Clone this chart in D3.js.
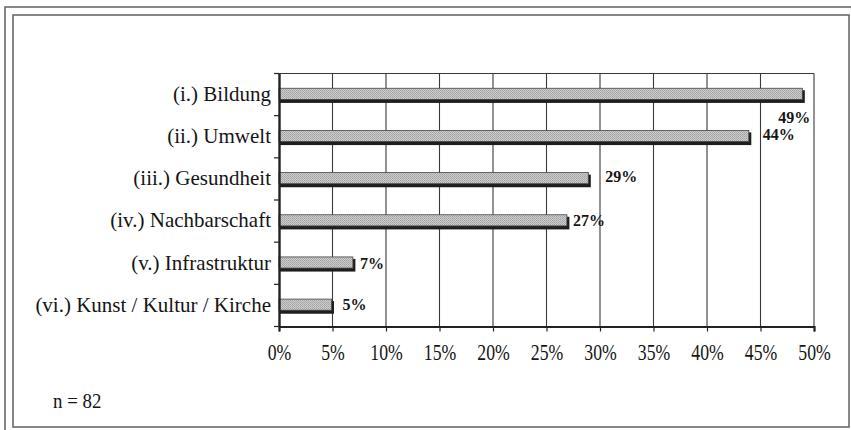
<!DOCTYPE html>
<html>
<head>
<meta charset="utf-8">
<script src="https://cdn.jsdelivr.net/npm/d3@7"></script>
<style>
  html, body { margin: 0; padding: 0; background: #fff; }
  svg { display: block; }
</style>
</head>
<body>
<svg id="chart" width="851" height="430"></svg>
<script>
// Survey result: share of respondents naming each field
const categories = [
  "(i.) Bildung",
  "(ii.) Umwelt",
  "(iii.) Gesundheit",
  "(iv.) Nachbarschaft",
  "(v.) Infrastruktur",
  "(vi.) Kunst / Kultur / Kirche"
];
const shares = [49, 44, 29, 27, 7, 5];
const valueLabels = ["49%", "44%", "29%", "27%", "7%", "5%"];
const xTicks = [0, 5, 10, 15, 20, 25, 30, 35, 40, 45, 50];
const sampleNote = "n = 82";

const serif = "'Liberation Serif', 'Times New Roman', serif";
const ink = "#151515";

const svg = d3.select("#chart");
const W = 851, H = 430;

// Double frame around the figure
svg.append("rect").attr("x", 5).attr("y", 7).attr("width", W + 10).attr("height", H + 10)
  .attr("fill", "none").attr("stroke", "#6a6a6a").attr("stroke-width", 1.6);
svg.append("rect").attr("x", 13).attr("y", 15).attr("width", 836).attr("height", 412)
  .attr("fill", "none").attr("stroke", "#6a6a6a").attr("stroke-width", 1.6);

const plot = { left: 279, right: 814, top: 73.5, bottom: 326.5 };

const x = d3.scaleLinear().domain([0, 50]).range([plot.left, plot.right]);
const y = d3.scaleBand().domain(categories).range([plot.top, plot.bottom]).paddingInner(0.7).paddingOuter(0.35);

// Stippled bar fill
const defs = svg.append("defs");
const pat = defs.append("pattern").attr("id", "stipple").attr("patternUnits", "userSpaceOnUse")
  .attr("width", 2).attr("height", 2);
pat.append("rect").attr("width", 2).attr("height", 2).attr("fill", "#cdcdcd");
pat.append("rect").attr("width", 1).attr("height", 1).attr("fill", "#a2a2a2");
pat.append("rect").attr("x", 1).attr("y", 1).attr("width", 1).attr("height", 1).attr("fill", "#acacac");

// Vertical gridlines
svg.append("g").selectAll("line").data(xTicks.slice(1)).join("line")
  .attr("x1", d => x(d)).attr("x2", d => x(d))
  .attr("y1", plot.top).attr("y2", plot.bottom)
  .attr("stroke", "#3a3a3a").attr("stroke-width", 1.1);

// Top border of the plot area
svg.append("line").attr("x1", plot.left).attr("x2", plot.right)
  .attr("y1", plot.top).attr("y2", plot.top)
  .attr("stroke", "#3a3a3a").attr("stroke-width", 1.2);

// Bars with a dark offset edge
const bars = svg.append("g");
bars.selectAll("rect.shadow").data(shares).join("rect").attr("class", "shadow")
  .attr("x", x(0)).attr("y", (d, i) => y(categories[i]) + 2)
  .attr("width", d => x(d) - x(0) + 1.5).attr("height", y.bandwidth())
  .attr("fill", "#1e1e1e");
bars.selectAll("rect.bar").data(shares).join("rect").attr("class", "bar")
  .attr("x", x(0)).attr("y", (d, i) => y(categories[i]))
  .attr("width", d => x(d) - x(0) - 1).attr("height", y.bandwidth() - 1.5)
  .attr("fill", "url(#stipple)").attr("stroke", "#444").attr("stroke-width", 0.8);

// Axes
const xAxis = d3.axisBottom(x).tickValues(xTicks).tickSize(5).tickFormat(d => d + "%").tickPadding(9);
const gx = svg.append("g").attr("transform", `translate(0,${plot.bottom})`).call(xAxis);
gx.select(".domain").attr("stroke", "#222").attr("stroke-width", 2.2);
gx.selectAll(".tick line").attr("stroke", "#222").attr("stroke-width", 1.2);
gx.selectAll(".tick text")
  .attr("font-family", serif)
  .attr("font-size", 23).attr("fill", ink)
  .attr("transform", "scale(0.77,1)")
  .attr("dy", "0.86em");

// Left axis: boundary ticks between categories
const yAxis = d3.axisLeft(y).tickSize(0).tickPadding(8);
const gy = svg.append("g").attr("transform", `translate(${plot.left},0)`).call(yAxis);
gy.select(".domain").attr("stroke", "#222").attr("stroke-width", 2.4);
gy.selectAll(".tick text")
  .attr("font-family", serif)
  .attr("font-size", 21).attr("fill", ink)
  .attr("dy", "0.3em");
const step = (plot.bottom - plot.top) / categories.length;
svg.append("g").selectAll("line").data(d3.range(categories.length + 1)).join("line")
  .attr("x1", plot.left - 5).attr("x2", plot.left)
  .attr("y1", i => plot.top + i * step).attr("y2", i => plot.top + i * step)
  .attr("stroke", "#222").attr("stroke-width", 1.2);

// Value labels, nudged individually as laid out in the figure
const labelNudge = [[-25, 22.5], [13, -2], [16, -3], [5, -1], [6, 0], [10, -1]];
svg.append("g").selectAll("text").data(shares).join("text")
  .attr("x", (d, i) => x(d) + labelNudge[i][0])
  .attr("y", (d, i) => y(categories[i]) + y.bandwidth() / 2 + labelNudge[i][1])
  .attr("dy", "0.35em")
  .attr("font-family", serif)
  .attr("font-weight", "bold").attr("font-size", 16).attr("fill", ink)
  .text((d, i) => valueLabels[i]);

// Sample size note
svg.append("text").attr("x", 53).attr("y", 408)
  .attr("font-family", serif)
  .attr("font-size", 21).attr("fill", ink)
  .attr("transform", "translate(53,0) scale(0.9,1) translate(-53,0)")
  .text(sampleNote);
</script>
</body>
</html>
